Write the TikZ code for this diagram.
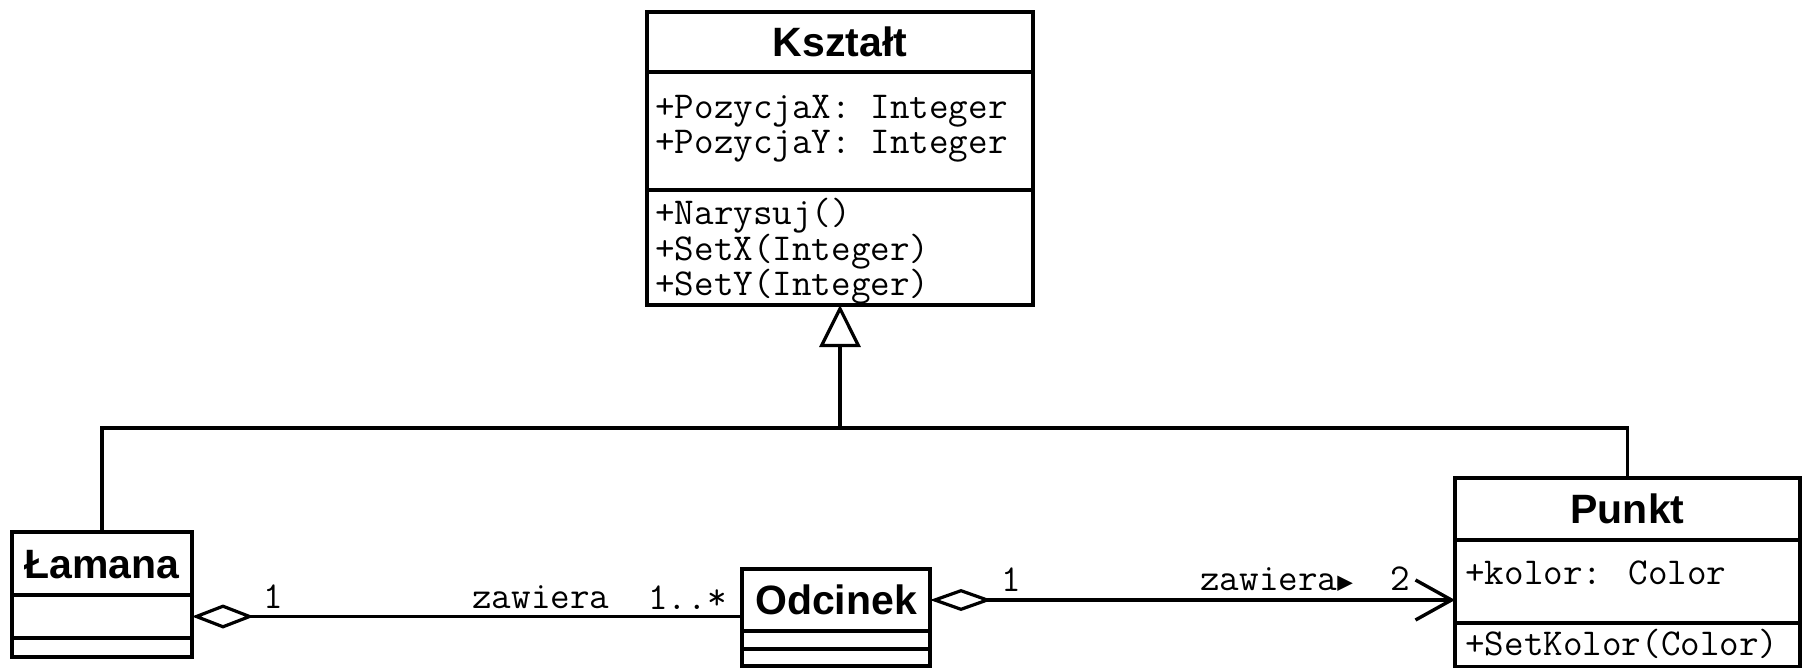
\documentclass[tikz,border=0pt]{standalone}
\usepackage{fontspec}
\usetikzlibrary{arrows.meta}
\newfontfamily\umlsans{Liberation Sans}
\newfontfamily\umlsym{DejaVu Sans Mono}

\tikzset{
  compart/.style={draw, line width=1.8pt, inner sep=0pt, outer sep=0pt,
    anchor=north west, minimum width=#1},
  clstitle/.style={font=\umlsans\bfseries\fontsize{20.5pt}{24pt}\selectfont,
    text height=14.7pt, text depth=0pt},
  member/.style={anchor=base west, inner sep=0pt,
    font=\ttfamily\fontsize{19pt}{22pt}\selectfont},
  assoc/.style={line width=1.7pt, line join=miter},
  aggtip/.style={{Diamond[open,length=31pt,width=12pt,line width=1.6pt]}-},
}

\begin{document}
\begin{tikzpicture}[x=0.5pt,y=-0.5pt]
\useasboundingbox[fill=white] (0,0) rectangle (1804,668);

% class Kształt
\node[compart=193pt, minimum height=30pt, clstitle] (kh) at (647,12) {Kształt};
\node[compart=193pt, minimum height=59pt] (ka) at (kh.south west) {};
\node[compart=193pt, minimum height=57.5pt] (ko) at (ka.south west) {};
\node[member] (ka1) at (655,119) {+PozycjaX: Integer};
\node[member] (ka2) at (655,154) {+PozycjaY: Integer};
\node[member] (ko1) at (655,225) {+Narysuj()};
\node[member] (ko2) at (655,261) {+SetX(Integer)};
\node[member] (ko3) at (655,296) {+SetY(Integer)};

% class Łamana
\node[compart=90pt, minimum height=31.5pt, clstitle] (lh) at (12,532) {Łamana};
\node[compart=90pt, minimum height=21.5pt] (la) at (lh.south west) {};
\node[compart=90pt, minimum height=9.5pt] (lo) at (la.south west) {};

% class Odcinek
\node[compart=94pt, minimum height=31pt, clstitle] (oh) at (742,569) {Odcinek};
\node[compart=94pt, minimum height=9pt] (oa) at (oh.south west) {};
\node[compart=94pt, minimum height=8.5pt] (oo) at (oa.south west) {};

% class Punkt
\node[compart=172.5pt, minimum height=31pt, clstitle] (ph) at (1455,478) {Punkt};
\node[compart=172.5pt, minimum height=41.5pt] (pa) at (ph.south west) {};
\node[compart=172.5pt, minimum height=22pt] (po) at (pa.south west) {};
\node[member] (pa1) at (1465,584) {+kolor: Color};
\node[member] (po1) at (1465,655) {+SetKolor(Color)};

% generalisation
\coordinate (junc) at (840,428);
\draw[assoc] (lh.north) -- (lh.north |- junc) -- (ph.north |- junc) -- (ph.north);
\draw[assoc, -{Triangle[open,length=21pt,width=20.5pt,line width=1.6pt]}]
  (junc) -- (ko.south);

% aggregations
\draw[assoc, aggtip] (la.east) -- (la.east -| oh.west);
\draw[assoc, {Diamond[open,length=31pt,width=11pt,line width=1.6pt]}-{Straight Barb[length=18pt,width=20pt,line width=1.7pt]}]
  (oh.east) -- (oh.east -| pa.west);

% association labels
\node[member] (m1) at (263,608) {1};
\node[member] (n1) at (472,608) {zawiera};
\node[member] (m2) at (648,609) {1..*};
\node[member] (m3) at (1001,591) {1};
\node[member] (n2) at (1200,590) {zawiera{\umlsym\fontsize{13pt}{16pt}\selectfont ▶}};
\node[member] (m4) at (1390,590) {2};
\end{tikzpicture}
\end{document}
